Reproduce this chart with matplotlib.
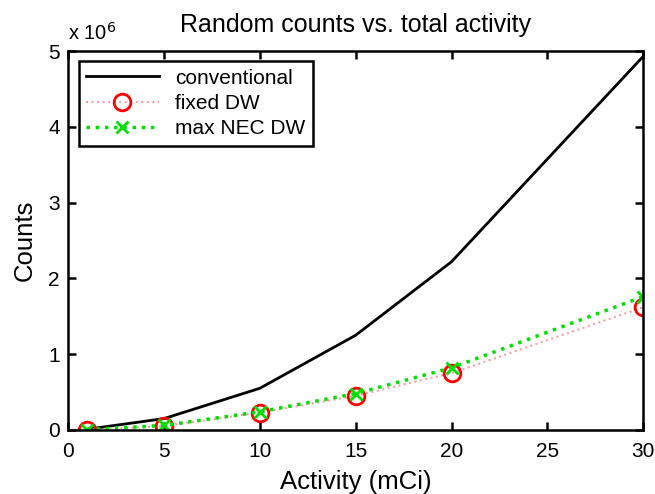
import matplotlib
matplotlib.use('Agg')
import matplotlib.pyplot as plt

plt.rcParams['font.family'] = ['Liberation Sans', 'DejaVu Sans']

# Activity levels and random counts (in units of 1e6)
activity = [1, 5, 10, 15, 20, 30]
conventional = [0.01, 0.15, 0.55, 1.25, 2.22, 4.93]
fixed_dw = [0.005, 0.05, 0.23, 0.45, 0.75, 1.62]
max_nec_dw = [0.005, 0.06, 0.24, 0.48, 0.82, 1.76]

fig = plt.figure(figsize=(6.55, 4.94), dpi=100)
ax = fig.add_axes([0.104, 0.1296, 0.878, 0.767])

ax.plot(activity, conventional, color='black', linewidth=2, label='conventional')
ax.plot(activity, fixed_dw, color='#f4a0a8', linestyle=':', linewidth=1.5,
        marker='o', markersize=12, markerfacecolor='none', markeredgecolor='red',
        markeredgewidth=2, label='fixed DW')
ax.plot(activity, max_nec_dw, color='#00e000', linestyle=':', linewidth=2.5,
        marker='x', markersize=9, markeredgewidth=2, label='max NEC DW')

ax.set_xlim(0, 30)
ax.set_ylim(0, 5)
ax.set_xticks([0, 5, 10, 15, 20, 25, 30])
ax.set_yticks([0, 1, 2, 3, 4, 5])
ax.tick_params(direction='in', length=6, width=1.8, labelsize=15, top=True, right=True)
ax.tick_params(axis='x', pad=9)
ax.tick_params(axis='y', pad=6)
for s in ax.spines.values():
    s.set_linewidth(1.8)

ax.set_title('Random counts vs. total activity', fontsize=18, pad=14)
ax.set_xlabel('Activity (mCi)', fontsize=18.5, labelpad=6)
ax.set_ylabel('Counts', fontsize=18.5, labelpad=8)
ax.text(0.0, 1.02, r'x 10$^6$', transform=ax.transAxes, fontsize=14.5,
        ha='left', va='bottom')

leg = ax.legend(loc='upper left', fontsize=15, fancybox=False, edgecolor='black',
                framealpha=1, handlelength=3.5, borderpad=0.35, labelspacing=0.3,
                bbox_to_anchor=(0.0, 1.0))
leg.get_frame().set_linewidth(1.8)

fig.savefig('out.png', dpi=100)
